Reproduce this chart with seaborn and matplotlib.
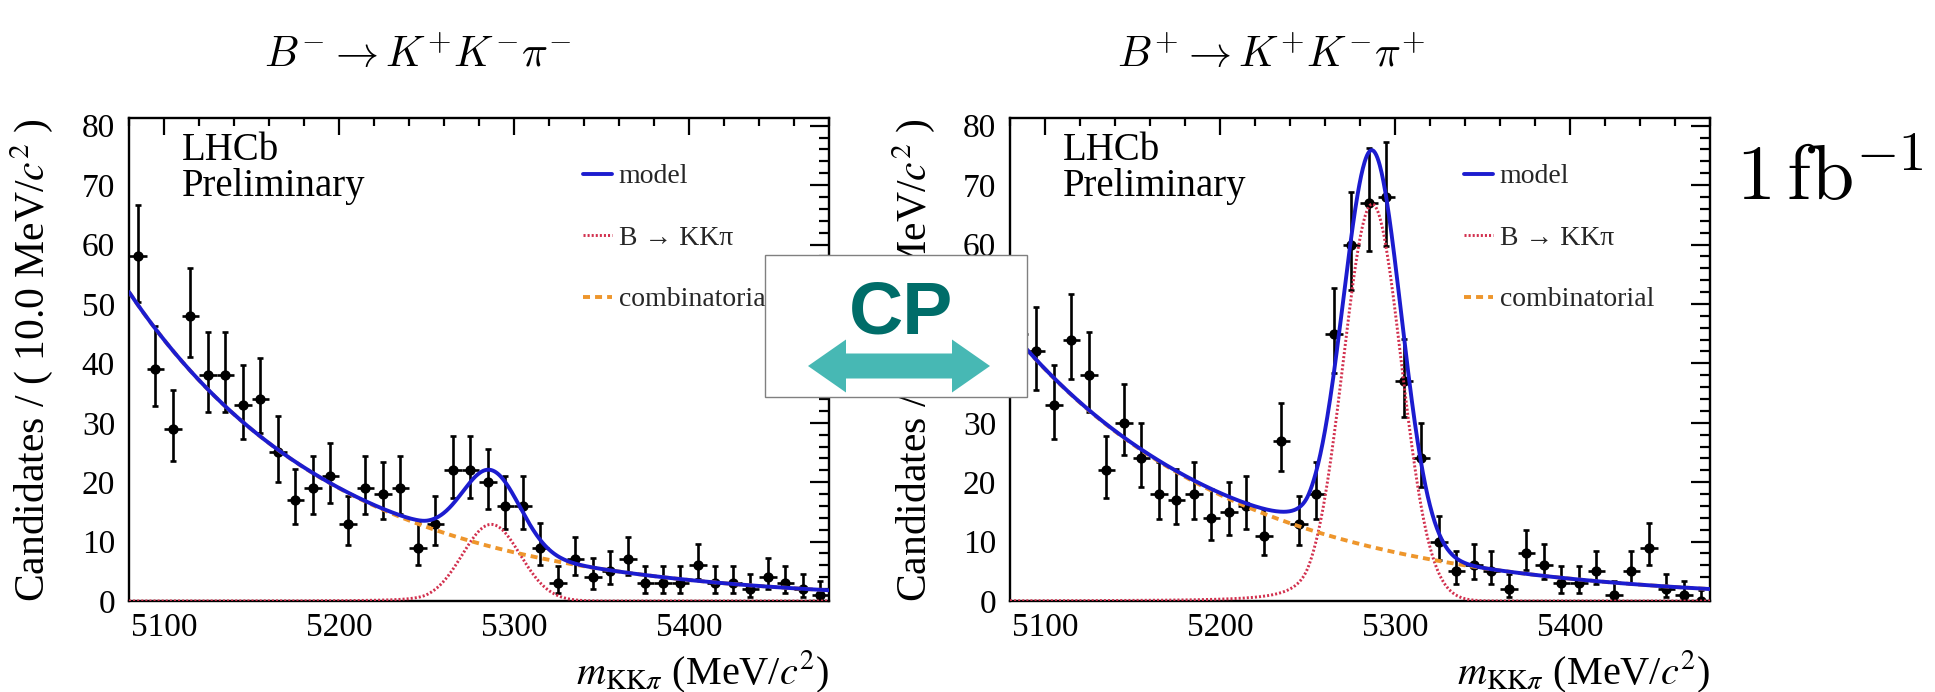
import numpy as np
import pandas as pd
import matplotlib
matplotlib.use("Agg")
import matplotlib.pyplot as plt
import seaborn as sns
from matplotlib.ticker import MultipleLocator
from matplotlib.patches import Rectangle, Polygon
from matplotlib.lines import Line2D

# ---------------- data ----------------
bin_width = 10.0
mass_bins = np.arange(5085.0, 5480.0, bin_width)          # bin centres (MeV/c^2)

counts_bminus = [58, 39, 29, 48, 38, 38, 33, 34, 25, 17,
                 19, 21, 13, 19, 18, 19, 9, 13, 22, 22,
                 20, 16, 16, 9, 3, 7, 4, 5, 7, 3,
                 3, 3, 6, 3, 3, 2, 4, 3, 2, 1]

counts_bplus = [45, 42, 33, 44, 38, 22, 30, 24, 18, 17,
                18, 14, 15, 16, 11, 27, 13, 18, 45, 60,
                67, 68, 37, 24, 10, 5, 6, 5, 2, 8,
                6, 3, 3, 5, 1, 5, 9, 2, 1, 0]

# fitted model parameters
comb_amp_bminus, comb_slope_bminus = 52.0, 0.0084
comb_amp_bplus, comb_slope_bplus = 45.6, 0.0078
sig_peak_bminus, sig_peak_bplus = 12.9, 66.8
sig_mean, sig_width = 5287.0, 16.5
cb_alpha, cb_n = 2.2, 2.0

titles = [r"$B^{-} \rightarrow K^{+}K^{-}\pi^{-}$", r"$B^{+} \rightarrow K^{+}K^{-}\pi^{+}$"]
legend_labels = ["model", "B \u2192 KK\u03c0", "combinatorial"]
x_range = (5080, 5480)
y_range = (0, 81.3)

# ---------------- helpers ----------------
def poisson_errors(n):
    n = np.asarray(n, dtype=float)
    def chi2q(k, z):
        k = np.maximum(k, 1e-9)
        return k * (1 - 2 / (9 * k) + z * np.sqrt(2 / (9 * k))) ** 3
    lo = np.where(n > 0, 0.5 * chi2q(2 * n, -1.0), 0.0)
    hi = 0.5 * chi2q(2 * n + 2, 1.0)
    return n - lo, hi - n

def combinatorial(m, amp, slope):
    return amp * np.exp(-slope * (m - x_range[0]))

def crystal_ball(m, peak):
    t = (m - sig_mean) / sig_width
    A = (cb_n / cb_alpha) ** cb_n * np.exp(-cb_alpha ** 2 / 2)
    B = cb_n / cb_alpha - cb_alpha
    tail = A * np.clip(B - t, 1e-6, None) ** (-cb_n)
    return peak * np.where(t > -cb_alpha, np.exp(-t ** 2 / 2), tail)

# ---------------- style ----------------
sns.set_theme(style="white")
plt.rcParams["font.family"] = ["Liberation Serif", "DejaVu Serif"]
plt.rcParams["mathtext.fontset"] = "stix"

W, H = 1935, 692
fig = plt.figure(figsize=(W / 100, H / 100), dpi=100)
fig.patch.set_facecolor("white")

blue, red, orange = "#1c1ccf", "#d2304e", "#ee962c"
ax_lefts = [129, 1010]
ax_top, ax_bottom, ax_w = 118, 601, 700

panels = [(counts_bminus, comb_amp_bminus, comb_slope_bminus, sig_peak_bminus),
          (counts_bplus, comb_amp_bplus, comb_slope_bplus, sig_peak_bplus)]

m_grid = np.linspace(x_range[0], x_range[1], 1201)
red_ls = (0, (0.7, 0.7))
orange_ls = (0, (1.8, 1.3))

for i, (counts, c_amp, c_slope, s_peak) in enumerate(panels):
    ax = fig.add_axes([ax_lefts[i] / W, (H - ax_bottom) / H, ax_w / W, (ax_bottom - ax_top) / H])
    ax.set_facecolor("white")

    counts = np.asarray(counts, dtype=float)
    elo, ehi = poisson_errors(counts)
    df = pd.DataFrame({"m": mass_bins, "n": counts})

    # data points
    ax.errorbar(mass_bins, counts, xerr=bin_width / 2, fmt="none", ecolor="black",
                elinewidth=1.9, capsize=0, zorder=3)
    ax.errorbar(mass_bins, counts, yerr=[elo, ehi], fmt="none", ecolor="black",
                elinewidth=1.9, capsize=2.4, capthick=1.9, zorder=3)
    sns.scatterplot(data=df, x="m", y="n", ax=ax, color="black", s=55,
                    edgecolor="black", linewidth=0, zorder=4, legend=False)

    comb = combinatorial(m_grid, c_amp, c_slope)
    sig = crystal_ball(m_grid, s_peak)
    curves = pd.DataFrame({"m": m_grid, "comb": comb, "sig": sig, "model": comb + sig})

    sns.lineplot(data=curves, x="m", y="sig", ax=ax, color=red, lw=2.1,
                 linestyle=red_ls, zorder=5, legend=False)
    sns.lineplot(data=curves, x="m", y="comb", ax=ax, color=orange, lw=2.8,
                 linestyle=orange_ls, zorder=5, legend=False)
    sns.lineplot(data=curves, x="m", y="model", ax=ax, color=blue, lw=2.8,
                 zorder=6, legend=False)

    ax.set_xlim(*x_range)
    ax.set_ylim(*y_range)
    ax.xaxis.set_major_locator(MultipleLocator(100))
    ax.xaxis.set_minor_locator(MultipleLocator(20))
    ax.yaxis.set_major_locator(MultipleLocator(10))
    ax.yaxis.set_minor_locator(MultipleLocator(2))
    ax.tick_params(which="both", direction="in", top=True, right=True,
                   width=1.6, color="black", labelsize=24, labelcolor="black")
    ax.tick_params(axis="y", which="major", length=14, pad=10)
    ax.tick_params(axis="y", which="minor", length=7)
    ax.tick_params(axis="x", which="major", length=12, pad=8)
    ax.tick_params(axis="x", which="minor", length=6)
    for sp in ax.spines.values():
        sp.set_color("black")
        sp.set_linewidth(1.7)

    ax.set_ylabel(r"Candidates / ( 10.0 MeV/$c^{2}$ )", fontsize=30, loc="top", color="black")
    ax.yaxis.set_label_coords(-0.105, 1.0)
    ax.set_xlabel(r"$m_{\mathrm{KK}\pi}$ (MeV/$c^{2}$)", fontsize=29, loc="right", color="black")
    ax.xaxis.set_label_coords(1.0, -0.098)

    ax.text(0.076, 0.971, "LHCb\nPreliminary", transform=ax.transAxes, va="top",
            ha="left", fontsize=28, linespacing=0.95, color="black")

    handles = [Line2D([], [], color=blue, lw=2.8),
               Line2D([], [], color=red, lw=2.1, linestyle=red_ls),
               Line2D([], [], color=orange, lw=2.8, linestyle=orange_ls)]
    ax.legend(handles, legend_labels, loc="upper left", bbox_to_anchor=(0.648, 0.905),
              frameon=False, fontsize=20, handlelength=1.05, handletextpad=0.25,
              labelspacing=1.3, borderaxespad=0, borderpad=0)

    fig.text([418, 1271][i] / W, 1 - 56 / H, titles[i], ha="center", va="center",
             fontsize=31, math_fontfamily="cm", color="black")

# luminosity label
fig.text(1736 / W, 1 - 200 / H, r"$1\,\mathrm{fb}^{-1}$", ha="left", va="baseline",
         fontsize=56, math_fontfamily="cm", color="black")

# CP box with double arrow
box = Rectangle((765 / W, 1 - 397 / H), (1027 - 765) / W, (397 - 255) / H,
                transform=fig.transFigure, facecolor="white", edgecolor="#808080",
                lw=1.0, zorder=10)
fig.add_artist(box)
fig.text(901 / W, 1 - 333 / H, "CP", ha="center", va="baseline", fontsize=54,
         family="Liberation Sans", weight="bold", color="#006d69", zorder=11)
ax_px = [(808, 366), (846, 339.5), (846, 353.5), (952, 353.5), (952, 339.5),
         (990, 366), (952, 392.5), (952, 378.5), (846, 378.5), (846, 392.5)]
arrow = Polygon([(x / W, 1 - y / H) for x, y in ax_px], closed=True,
                transform=fig.transFigure, facecolor="#47b8b4", edgecolor="none", zorder=11)
fig.add_artist(arrow)

fig.savefig("out.png", dpi=100, facecolor="white")
